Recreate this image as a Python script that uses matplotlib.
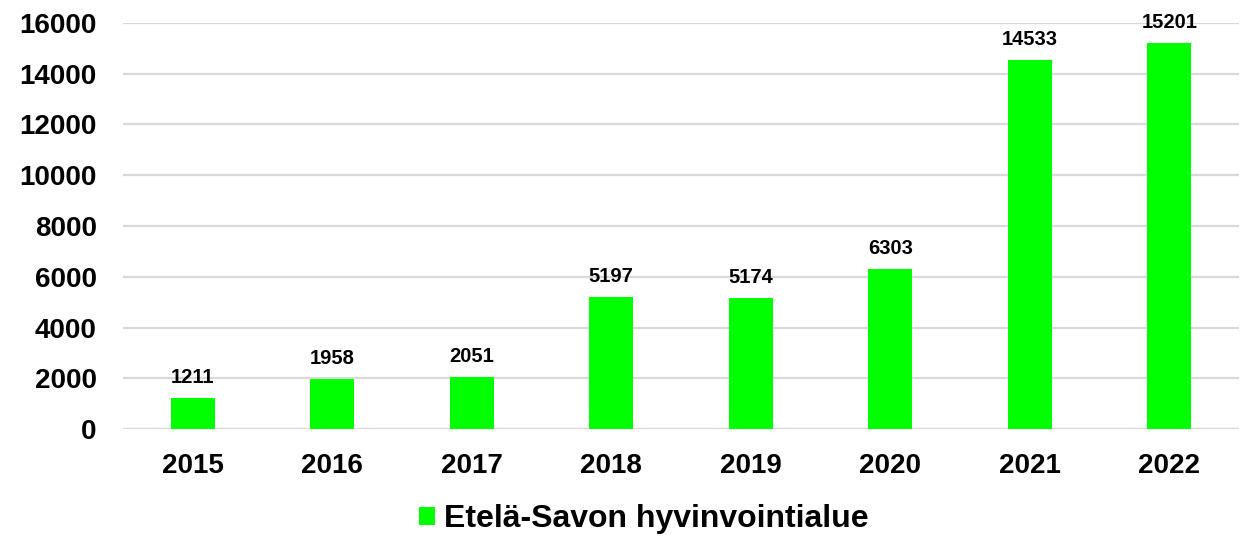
import matplotlib
matplotlib.use("Agg")
import matplotlib.pyplot as plt
from matplotlib.patches import Patch

plt.rcParams['font.family'] = ['Liberation Sans', 'DejaVu Sans']
plt.rcParams['font.weight'] = 'bold'

years = ['2015', '2016', '2017', '2018', '2019', '2020', '2021', '2022']
values = [1211, 1958, 2051, 5197, 5174, 6303, 14533, 15201]
series_name = 'Etelä-Savon hyvinvointialue'
yticks = [0, 2000, 4000, 6000, 8000, 10000, 12000, 14000, 16000]

fig = plt.figure(figsize=(12.48, 5.36), dpi=100)
ax = fig.add_axes([0.0986, 0.1996, 0.8942, 0.7575])

x = range(len(years))
ax.bar(x, values, width=0.315, color='#00ff00', zorder=3)
for i, v in enumerate(values):
    ax.annotate(str(v), (i, v), xytext=(0, 8), textcoords='offset points',
                ha='center', va='bottom', fontsize=14.5, fontweight='bold')

ax.set_xlim(-0.5, len(years) - 0.5)
ax.set_ylim(0, 16000)
ax.set_yticks(yticks)
ax.set_yticklabels([str(t) for t in yticks], fontsize=20, fontweight='bold')
ax.set_xticks(list(x))
ax.set_xticklabels(years, fontsize=20, fontweight='bold')
ax.tick_params(axis='y', length=0, pad=19)
ax.tick_params(axis='x', length=0, pad=17)
ax.grid(axis='y', color='#d9d9d9', linewidth=1.6, zorder=0)
ax.set_axisbelow(True)
for s in ax.spines.values():
    s.set_visible(False)
ax.axhline(0, color='#d9d9d9', linewidth=1.6, zorder=1)

handle = Patch(facecolor='#00ff00', label=series_name)
fig.legend(handles=[handle], loc='center', bbox_to_anchor=(0.516, 0.031),
           frameon=False, prop={'size': 23, 'weight': 'bold'},
           handlelength=0.5, handleheight=0.5, handletextpad=0.28,
           borderpad=0)

fig.savefig('out.png', dpi=100)
